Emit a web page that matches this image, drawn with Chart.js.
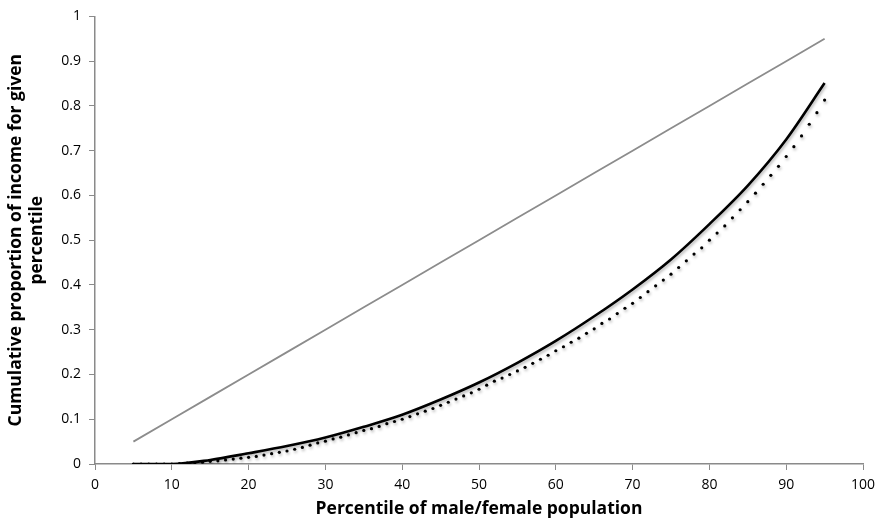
<!DOCTYPE html>
<html>
<head>
<meta charset="utf-8">
<script src="https://cdn.jsdelivr.net/npm/chart.js@4"></script>
<style>
    body { margin: 0; background: #fff; }
    #wrap { width: 877px; height: 524px; }
</style>
</head>
<body>
<div id="wrap"><canvas id="lorenz"></canvas></div>
<script>
// coarse grid for the equality line and the solid curve
const percentiles = [5, 10, 15, 20, 25, 30, 35, 40, 45, 50, 55, 60, 65, 70, 75, 80, 85, 90, 95]
const equality = [0.05, 0.10, 0.15, 0.20, 0.25, 0.30, 0.35, 0.40, 0.45, 0.50, 0.55, 0.60, 0.65, 0.70, 0.75, 0.80, 0.85, 0.90, 0.95]
const male = [0, 0, 0.009, 0.024, 0.040, 0.059, 0.083, 0.110, 0.144, 0.182, 0.226, 0.275, 0.330, 0.390, 0.457, 0.536, 0.622, 0.725, 0.851]

// the dotted curve has one dot per percentile, 5 to 95
const femalePercentiles = [
    5, 6, 7, 8, 9, 10, 11, 12, 13, 14, 15, 16, 17, 18, 19, 20, 21, 22, 23, 24, 25,
    26, 27, 28, 29, 30, 31, 32, 33, 34, 35, 36, 37, 38, 39, 40, 41, 42, 43, 44, 45,
    46, 47, 48, 49, 50, 51, 52, 53, 54, 55, 56, 57, 58, 59, 60, 61, 62, 63, 64, 65,
    66, 67, 68, 69, 70, 71, 72, 73, 74, 75, 76, 77, 78, 79, 80, 81, 82, 83, 84, 85,
    86, 87, 88, 89, 90, 91, 92, 93, 94, 95
]
const female = [
    0, 0, 0, 0, 0, 0, 0.001, 0.002, 0.003, 0.004, 0.006, 0.007, 0.009, 0.011, 0.013, 0.015, 0.017, 0.020, 0.023, 0.026, 0.029,
    0.033, 0.037, 0.042, 0.047, 0.051, 0.056, 0.060, 0.065, 0.070, 0.075, 0.079, 0.084, 0.090, 0.095, 0.100, 0.106, 0.112, 0.118, 0.124, 0.131,
    0.138, 0.145, 0.152, 0.159, 0.167, 0.176, 0.185, 0.192, 0.200, 0.208, 0.216, 0.225, 0.234, 0.243, 0.253, 0.262, 0.272, 0.281, 0.292, 0.302,
    0.314, 0.324, 0.336, 0.348, 0.359, 0.372, 0.385, 0.398, 0.411, 0.424, 0.439, 0.454, 0.469, 0.483, 0.500, 0.516, 0.532, 0.550, 0.568, 0.586,
    0.605, 0.625, 0.645, 0.665, 0.687, 0.709, 0.733, 0.759, 0.785, 0.813
]
const yTicks = [0, 0.1, 0.2, 0.3, 0.4, 0.5, 0.6, 0.7, 0.8, 0.9, 1]

const toPoints = (xs, vals) => xs.map((p, i) => ({ x: p, y: vals[i] }))

const tickFont = { family: "'Open Sans', sans-serif", size: 14 }
const titleFont = { family: "'Open Sans', sans-serif", size: 17.5, weight: 'bold' }
const axisGray = '#8a8a8a'

// soft drop shadow under the black curves, like the original
const shadow = {
    id: 'shadow',
    beforeDatasetDraw(chart, args) {
        if (args.index === 0) return
        const ctx = chart.ctx
        ctx.save()
        ctx.shadowColor = 'rgba(0,0,0,0.3)'
        ctx.shadowOffsetX = 1
        ctx.shadowOffsetY = 2
        ctx.shadowBlur = 3
    },
    afterDatasetDraw(chart, args) {
        if (args.index === 0) return
        chart.ctx.restore()
    }
}

new Chart(document.getElementById('lorenz'), {
    type: 'line',
    data: {
        datasets: [{
            label: 'Equality',
            data: toPoints(percentiles, equality),
            borderColor: '#8c8c8c',
            borderWidth: 1.8,
            pointRadius: 0,
            tension: 0
        }, {
            label: 'Male',
            data: toPoints(percentiles, male),
            borderColor: '#000',
            borderWidth: 2.6,
            pointRadius: 0,
            cubicInterpolationMode: 'monotone'
        }, {
            label: 'Female',
            data: toPoints(femalePercentiles, female),
            showLine: false,
            pointRadius: 1.6,
            pointBorderWidth: 0,
            pointBackgroundColor: '#000'
        }]
    },
    plugins: [shadow],
    options: {
        responsive: true,
        maintainAspectRatio: false,
        animation: false,
        layout: { padding: { top: 15, right: 14, left: 6, bottom: 0 } },
        plugins: { legend: { display: false }, tooltip: { enabled: false } },
        scales: {
            x: {
                type: 'linear',
                min: 0,
                max: 100,
                ticks: { stepSize: 10, color: '#000', font: tickFont, padding: 7 },
                grid: { drawOnChartArea: false, tickLength: 6, color: axisGray },
                border: { color: axisGray, width: 1.5 },
                title: {
                    display: true,
                    text: 'Percentile of male/female population',
                    color: '#000',
                    font: titleFont,
                    padding: { top: 4 }
                },
                afterFit: (s) => { s.height = 60; s.paddingRight = 0; s.paddingLeft = 0 }
            },
            y: {
                min: 0,
                max: 1,
                afterBuildTicks: (s) => { s.ticks = yTicks.map(v => ({ value: v })) },
                ticks: {
                    color: '#000',
                    font: tickFont,
                    padding: 8,
                    callback: (v) => (v === 0 || v === 1) ? String(v) : v.toFixed(1)
                },
                grid: { drawOnChartArea: false, tickLength: 6, color: axisGray },
                border: { color: axisGray, width: 1.5 },
                title: {
                    display: true,
                    text: ['Cumulative proportion of income for given', 'percentile'],
                    color: '#000',
                    font: titleFont,
                    padding: 0
                },
                afterFit: (s) => { s.width = 89 }
            }
        }
    }
})
</script>
</body>
</html>
